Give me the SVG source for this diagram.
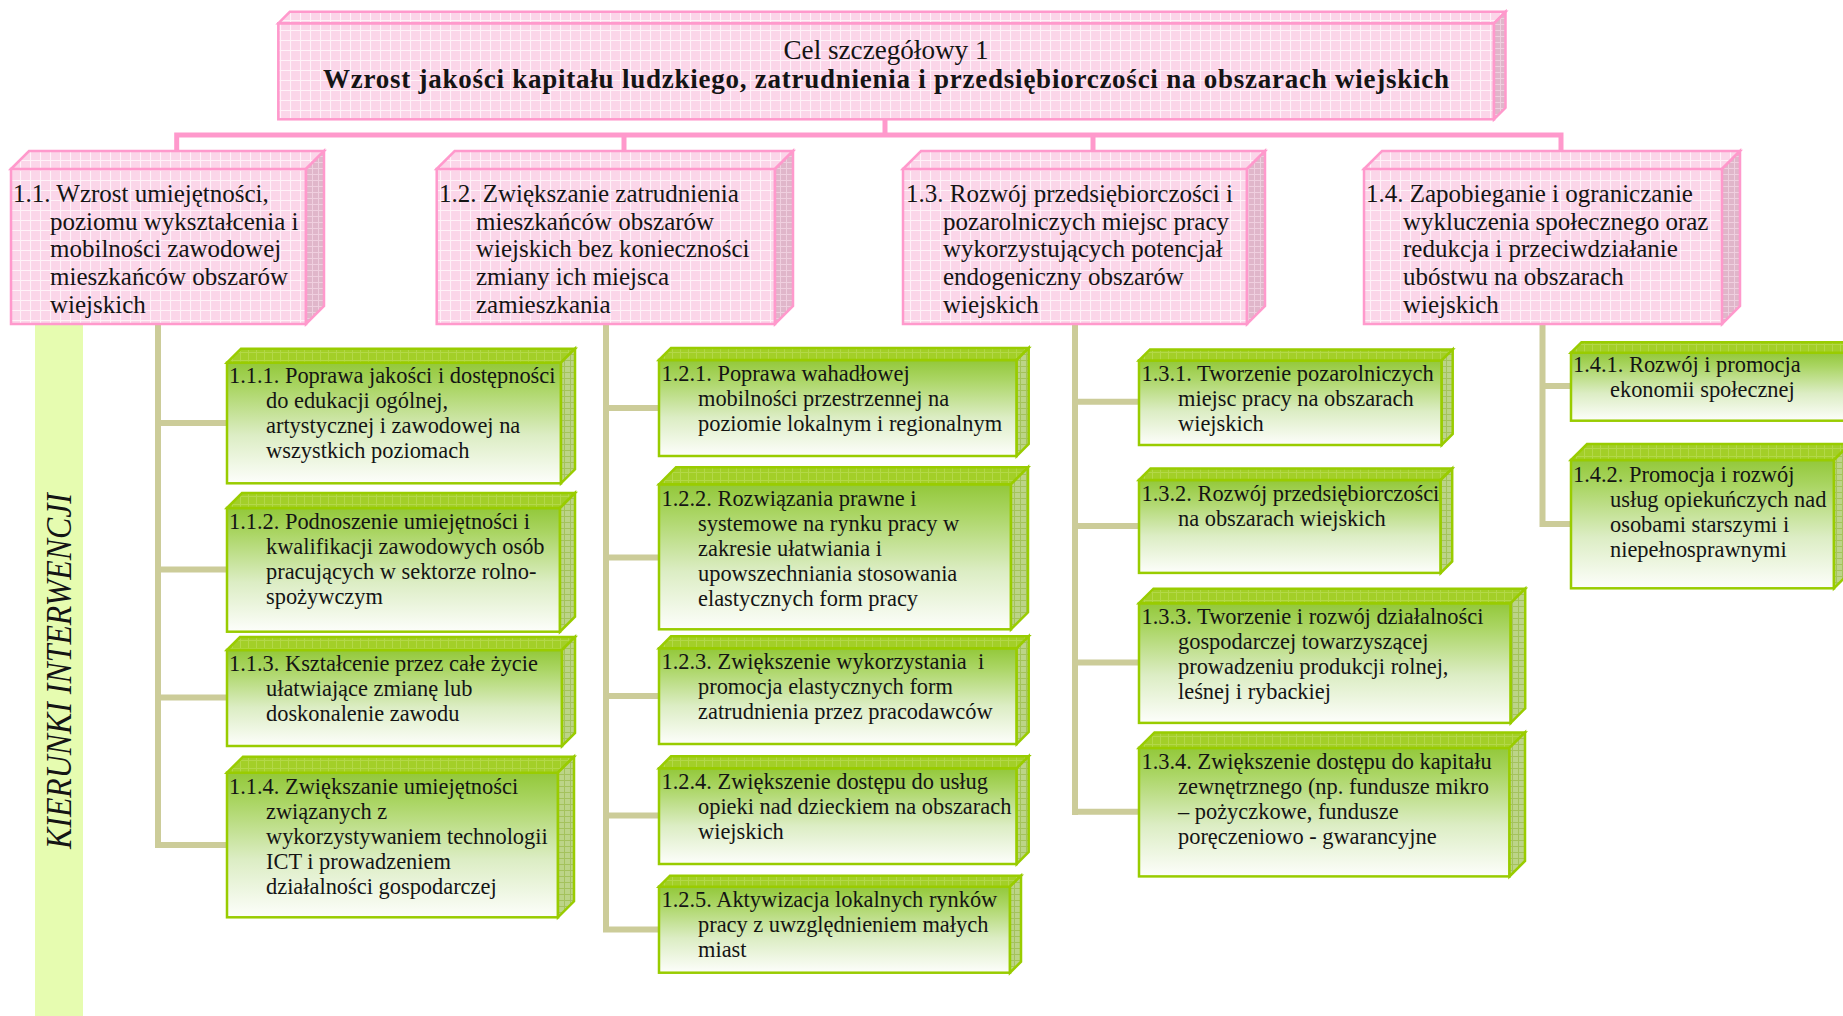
<svg xmlns="http://www.w3.org/2000/svg" width="1843" height="1016" viewBox="0 0 1843 1016">
<style>
.pf{fill:url(#pinkGrid);stroke:#ff99cc;stroke-width:2.5}
.ps{fill:url(#pinkSide);stroke:#ff99cc;stroke-width:2.5}
.gf{fill:url(#greenGrad);stroke:#99cc00;stroke-width:2.5}
.gt{fill:url(#greenTop);stroke:#99cc00;stroke-width:2.5}
.gs{fill:url(#greenSide);stroke:#99cc00;stroke-width:2.5}
.t1{font-family:"Liberation Serif","Times New Roman",serif;font-size:25px;fill:#141414}
.t2{font-family:"Liberation Serif","Times New Roman",serif;font-size:22.4px;fill:#141414}
.pc{fill:none;stroke:#ff99cc;stroke-width:5}
.gc{fill:none;stroke:#cccc99;stroke-width:6}
</style>
<defs>
<pattern id="pinkGrid" width="10" height="10" patternUnits="userSpaceOnUse">
<rect width="10" height="10" fill="#fbd6e9"/>
<path d="M0 0.5H10M0.5 0V10" stroke="#fff2f8" stroke-width="1.2"/>
</pattern>
<pattern id="pinkSide" width="6" height="6" patternUnits="userSpaceOnUse">
<rect width="6" height="6" fill="#e0b6ca"/>
<path d="M0 0.5H6M0.5 0V6" stroke="#efcfdf" stroke-width="1"/>
</pattern>
<pattern id="greenTop" width="8" height="8" patternUnits="userSpaceOnUse">
<rect width="8" height="8" fill="#a3cf28"/>
<path d="M0 0.5H8M0.5 0V8" stroke="#b3d848" stroke-width="1"/>
</pattern>
<pattern id="greenSide" width="6" height="6" patternUnits="userSpaceOnUse">
<rect width="6" height="6" fill="#bcd488"/>
<path d="M0 0.5H6M0.5 0V6" stroke="#a4c25c" stroke-width="1"/>
</pattern>
<linearGradient id="greenGrad" x1="0" y1="0" x2="0" y2="1">
<stop offset="0" stop-color="#93c83a"/>
<stop offset="0.2" stop-color="#aad563"/>
<stop offset="0.6" stop-color="#dcedc4"/>
<stop offset="1" stop-color="#fdfefb"/>
</linearGradient>
</defs>
<rect width="1843" height="1016" fill="#ffffff"/>

<g id="strip">
<rect x="35" y="324" width="48" height="692" fill="#e6fcb0"/>
<text transform="translate(70.5,671) rotate(-90) scale(0.885,1)" text-anchor="middle" font-family="Liberation Serif, Times New Roman, serif" font-style="italic" font-size="36" fill="#141414">KIERUNKI INTERWENCJI</text>
</g>

<g id="connectors">
<path class="pc" d="M885 119V135M176.7 151V135H1561V151M624 135V151M1093 135V151"/>
<path class="gc" d="M158 324V848M155 845H227M158 423H227M158 569.5H227M158 697.5H227"/>
<path class="gc" d="M606 324V932.5M603 929.5H659M606 408H659M606 557.5H659M606 696H659M606 815.5H659"/>
<path class="gc" d="M1075 324V815M1072 811.8H1139M1075 401.8H1139M1075 526H1139M1075 662.5H1139"/>
<path class="gc" d="M1542.5 324V527M1539.5 524H1571M1542.5 386H1571"/>
</g>

<g id="goal">
<rect class="pf" x="278.3" y="23.3" width="1215.7" height="96"/>
<polygon class="pf" points="278.3,23.3 289.8,11.8 1505.5,11.8 1494,23.3"/>
<polygon class="ps" points="1494,23.3 1505.5,11.8 1505.5,107.8 1494,119.3"/>
<text x="886" y="59" text-anchor="middle" font-family="Liberation Serif, Times New Roman, serif" font-size="27" fill="#141414" textLength="205" lengthAdjust="spacingAndGlyphs">Cel szczegółowy 1</text>
<text x="886" y="88" text-anchor="middle" font-family="Liberation Serif, Times New Roman, serif" font-size="27" font-weight="bold" fill="#141414" textLength="1126" lengthAdjust="spacing">Wzrost jakości kapitału ludzkiego, zatrudnienia i przedsiębiorczości na obszarach wiejskich</text>
</g>

<g id="n1_1">
<rect class="pf" x="11" y="169" width="295" height="155"/>
<polygon class="pf" points="11,169 29,151 324,151 306,169"/>
<polygon class="ps" points="306,169 324,151 324,306 306,324"/>
<text class="t1"><tspan x="13" y="201.7">1.1. Wzrost umiejętności,</tspan><tspan x="50" y="229.5">poziomu wykształcenia i</tspan><tspan x="50" y="257.3">mobilności zawodowej</tspan><tspan x="50" y="285.1">mieszkańców obszarów</tspan><tspan x="50" y="312.9">wiejskich</tspan></text>
</g>

<g id="n1_2">
<rect class="pf" x="436.7" y="169" width="338.3" height="155"/>
<polygon class="pf" points="436.7,169 454.7,151 793,151 775,169"/>
<polygon class="ps" points="775,169 793,151 793,306 775,324"/>
<text class="t1"><tspan x="439" y="201.7">1.2. Zwiększanie zatrudnienia</tspan><tspan x="476" y="229.5">mieszkańców obszarów</tspan><tspan x="476" y="257.3">wiejskich bez konieczności</tspan><tspan x="476" y="285.1">zmiany ich miejsca</tspan><tspan x="476" y="312.9">zamieszkania</tspan></text>
</g>

<g id="n1_3">
<rect class="pf" x="903" y="169" width="344" height="155"/>
<polygon class="pf" points="903,169 921,151 1265,151 1247,169"/>
<polygon class="ps" points="1247,169 1265,151 1265,306 1247,324"/>
<text class="t1"><tspan x="906" y="201.7">1.3. Rozwój przedsiębiorczości i</tspan><tspan x="943" y="229.5">pozarolniczych miejsc pracy</tspan><tspan x="943" y="257.3">wykorzystujących potencjał</tspan><tspan x="943" y="285.1">endogeniczny obszarów</tspan><tspan x="943" y="312.9">wiejskich</tspan></text>
</g>

<g id="n1_4">
<rect class="pf" x="1364" y="169" width="358" height="155"/>
<polygon class="pf" points="1364,169 1382,151 1740,151 1722,169"/>
<polygon class="ps" points="1722,169 1740,151 1740,306 1722,324"/>
<text class="t1"><tspan x="1366" y="201.7">1.4. Zapobieganie i ograniczanie</tspan><tspan x="1403" y="229.5">wykluczenia społecznego oraz</tspan><tspan x="1403" y="257.3">redukcja i przeciwdziałanie</tspan><tspan x="1403" y="285.1">ubóstwu na obszarach</tspan><tspan x="1403" y="312.9">wiejskich</tspan></text>
</g>

<g id="n1_1_1">
<rect class="gf" x="227" y="362.7" width="334" height="120.6"/>
<polygon class="gt" points="227,362.7 241,348.7 575,348.7 561,362.7"/>
<polygon class="gs" points="561,362.7 575,348.7 575,469.3 561,483.3"/>
<text class="t2"><tspan x="229" y="383.2">1.1.1. Poprawa jakości i dostępności</tspan><tspan x="266" y="408.2">do edukacji ogólnej,</tspan><tspan x="266" y="433.2">artystycznej i zawodowej na</tspan><tspan x="266" y="458.2">wszystkich poziomach</tspan></text>
</g>

<g id="n1_1_2">
<rect class="gf" x="227" y="508" width="333" height="123.7"/>
<polygon class="gt" points="227,508 242,493 575,493 560,508"/>
<polygon class="gs" points="560,508 575,493 575,616.7 560,631.7"/>
<text class="t2"><tspan x="229" y="528.5">1.1.2. Podnoszenie umiejętności i</tspan><tspan x="266" y="553.5">kwalifikacji zawodowych osób</tspan><tspan x="266" y="578.5">pracujących w sektorze rolno-</tspan><tspan x="266" y="603.5">spożywczym</tspan></text>
</g>

<g id="n1_1_3">
<rect class="gf" x="227" y="650" width="335" height="96"/>
<polygon class="gt" points="227,650 240,637 575,637 562,650"/>
<polygon class="gs" points="562,650 575,637 575,733 562,746"/>
<text class="t2"><tspan x="229" y="670.5">1.1.3. Kształcenie przez całe życie</tspan><tspan x="266" y="695.5">ułatwiające zmianę lub</tspan><tspan x="266" y="720.5">doskonalenie zawodu</tspan></text>
</g>

<g id="n1_1_4">
<rect class="gf" x="227" y="772.7" width="331" height="144.6"/>
<polygon class="gt" points="227,772.7 243,756.7 574,756.7 558,772.7"/>
<polygon class="gs" points="558,772.7 574,756.7 574,901.3 558,917.3"/>
<text class="t2"><tspan x="229" y="794">1.1.4. Zwiększanie umiejętności</tspan><tspan x="266" y="819">związanych z</tspan><tspan x="266" y="844">wykorzystywaniem technologii</tspan><tspan x="266" y="869">ICT i prowadzeniem</tspan><tspan x="266" y="894">działalności gospodarczej</tspan></text>
</g>

<g id="n1_2_1">
<rect class="gf" x="659" y="360" width="357.7" height="96"/>
<polygon class="gt" points="659,360 671,348 1028.7,348 1016.7,360"/>
<polygon class="gs" points="1016.7,360 1028.7,348 1028.7,444 1016.7,456"/>
<text class="t2"><tspan x="661.5" y="380.5">1.2.1. Poprawa wahadłowej</tspan><tspan x="698" y="405.5">mobilności przestrzennej na</tspan><tspan x="698" y="430.5">poziomie lokalnym i regionalnym</tspan></text>
</g>

<g id="n1_2_2">
<rect class="gf" x="659" y="484.3" width="352" height="145"/>
<polygon class="gt" points="659,484.3 676,467.3 1028,467.3 1011,484.3"/>
<polygon class="gs" points="1011,484.3 1028,467.3 1028,612.3 1011,629.3"/>
<text class="t2"><tspan x="661.5" y="506">1.2.2. Rozwiązania prawne i</tspan><tspan x="698" y="531">systemowe na rynku pracy w</tspan><tspan x="698" y="556">zakresie ułatwiania i</tspan><tspan x="698" y="581">upowszechniania stosowania</tspan><tspan x="698" y="606">elastycznych form pracy</tspan></text>
</g>

<g id="n1_2_3">
<rect class="gf" x="659" y="648.3" width="357.7" height="95.7"/>
<polygon class="gt" points="659,648.3 671,636.3 1028.7,636.3 1016.7,648.3"/>
<polygon class="gs" points="1016.7,648.3 1028.7,636.3 1028.7,732 1016.7,744"/>
<text class="t2" xml:space="preserve"><tspan x="661.5" y="668.5">1.2.3. Zwiększenie wykorzystania  i</tspan><tspan x="698" y="693.5">promocja elastycznych form</tspan><tspan x="698" y="718.5">zatrudnienia przez pracodawców</tspan></text>
</g>

<g id="n1_2_4">
<rect class="gf" x="659" y="768.3" width="357.7" height="95.7"/>
<polygon class="gt" points="659,768.3 671,756.3 1028.7,756.3 1016.7,768.3"/>
<polygon class="gs" points="1016.7,768.3 1028.7,756.3 1028.7,852 1016.7,864"/>
<text class="t2"><tspan x="661.5" y="789">1.2.4. Zwiększenie dostępu do usług</tspan><tspan x="698" y="814">opieki nad dzieckiem na obszarach</tspan><tspan x="698" y="839">wiejskich</tspan></text>
</g>

<g id="n1_2_5">
<rect class="gf" x="659" y="886.7" width="351" height="86"/>
<polygon class="gt" points="659,886.7 670,875.7 1021,875.7 1010,886.7"/>
<polygon class="gs" points="1010,886.7 1021,875.7 1021,961.7 1010,972.7"/>
<text class="t2"><tspan x="661.5" y="907">1.2.5. Aktywizacja lokalnych rynków</tspan><tspan x="698" y="932">pracy z uwzględnieniem małych</tspan><tspan x="698" y="957">miast</tspan></text>
</g>

<g id="n1_3_1">
<rect class="gf" x="1139" y="360.4" width="302.7" height="84.6"/>
<polygon class="gt" points="1139,360.4 1150,349.4 1452.7,349.4 1441.7,360.4"/>
<polygon class="gs" points="1441.7,360.4 1452.7,349.4 1452.7,434 1441.7,445"/>
<text class="t2"><tspan x="1141.5" y="380.5">1.3.1. Tworzenie pozarolniczych</tspan><tspan x="1178" y="405.5">miejsc pracy na obszarach</tspan><tspan x="1178" y="430.5">wiejskich</tspan></text>
</g>

<g id="n1_3_2">
<rect class="gf" x="1139" y="480" width="301.7" height="92.9"/>
<polygon class="gt" points="1139,480 1150.5,468.5 1452.2,468.5 1440.7,480"/>
<polygon class="gs" points="1440.7,480 1452.2,468.5 1452.2,561.4 1440.7,572.9"/>
<text class="t2"><tspan x="1141.5" y="501">1.3.2. Rozwój przedsiębiorczości</tspan><tspan x="1178" y="526">na obszarach wiejskich</tspan></text>
</g>

<g id="n1_3_3">
<rect class="gf" x="1139" y="603.2" width="371.7" height="119.7"/>
<polygon class="gt" points="1139,603.2 1153.5,588.7 1525.2,588.7 1510.7,603.2"/>
<polygon class="gs" points="1510.7,603.2 1525.2,588.7 1525.2,708.4 1510.7,722.9"/>
<text class="t2"><tspan x="1141.5" y="623.5">1.3.3. Tworzenie i rozwój działalności</tspan><tspan x="1178" y="648.5">gospodarczej towarzyszącej</tspan><tspan x="1178" y="673.5">prowadzeniu produkcji rolnej,</tspan><tspan x="1178" y="698.5">leśnej i rybackiej</tspan></text>
</g>

<g id="n1_3_4">
<rect class="gf" x="1139" y="747.9" width="370.5" height="128.5"/>
<polygon class="gt" points="1139,747.9 1154.5,732.4 1525,732.4 1509.5,747.9"/>
<polygon class="gs" points="1509.5,747.9 1525,732.4 1525,860.9 1509.5,876.4"/>
<text class="t2"><tspan x="1141.5" y="769">1.3.4. Zwiększenie dostępu do kapitału</tspan><tspan x="1178" y="794">zewnętrznego (np. fundusze mikro</tspan><tspan x="1178" y="819">– pożyczkowe, fundusze</tspan><tspan x="1178" y="844">poręczeniowo - gwarancyjne</tspan></text>
</g>

<g id="n1_4_1">
<rect class="gf" x="1571" y="352.7" width="281" height="68"/>
<polygon class="gt" points="1571,352.7 1581.5,342.2 1862.5,342.2 1852,352.7"/>
<text class="t2"><tspan x="1573" y="372">1.4.1. Rozwój i promocja</tspan><tspan x="1610" y="397">ekonomii społecznej</tspan></text>
</g>

<g id="n1_4_2">
<rect class="gf" x="1571" y="460" width="263" height="128.3"/>
<polygon class="gt" points="1571,460 1587,444 1850,444 1834,460"/>
<polygon class="gs" points="1834,460 1850,444 1850,572.3 1834,588.3"/>
<text class="t2"><tspan x="1573" y="481.5">1.4.2. Promocja i rozwój</tspan><tspan x="1610" y="506.5">usług opiekuńczych nad</tspan><tspan x="1610" y="531.5">osobami starszymi i</tspan><tspan x="1610" y="556.5">niepełnosprawnymi</tspan></text>
</g>
</svg>
